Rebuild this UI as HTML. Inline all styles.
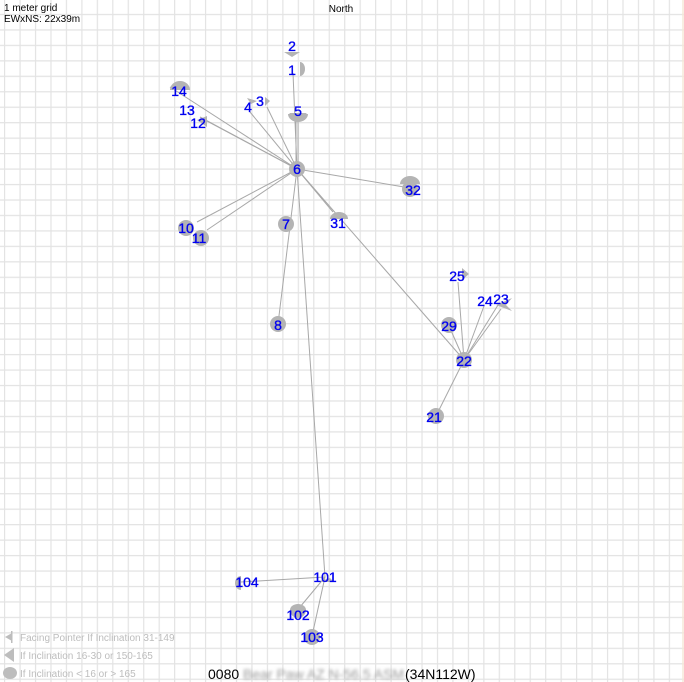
<!DOCTYPE html>
<html><head><meta charset="utf-8"><style>
html,body{margin:0;padding:0;background:#fff;}
svg{display:block;font-family:"Liberation Sans",sans-serif;}
.l{fill:#0000f0;stroke:#0000f0;stroke-width:0.35;font-size:14px;text-anchor:middle;dominant-baseline:central;}
.s{fill:#b4b4b4;}
.c{stroke:#a8a8a8;stroke-width:1;fill:none;}
</style></head><body>
<svg width="684" height="682" viewBox="0 0 684 682" xmlns="http://www.w3.org/2000/svg">
<defs>
<pattern id="g" patternUnits="userSpaceOnUse" x="4" y="13.86" width="15.46" height="15.46">
<path d="M0.6 0V15.46M0 0.6H15.46" stroke="#e3e3e3" stroke-width="1.2" fill="none"/>
</pattern>
<filter id="b"><feGaussianBlur stdDeviation="1.6"/></filter>
</defs>
<rect width="684" height="682" fill="#fff"/>
<rect width="684" height="682" fill="url(#g)"/>
<line x1="683" y1="0" x2="683" y2="682" stroke="#f5e8d8" stroke-width="1.5"/>

<g class="c">
<line x1="297" y1="169" x2="170" y2="87"/>
<line x1="297" y1="169" x2="200" y2="117"/>
<line x1="297" y1="169" x2="205" y2="120"/>
<line x1="297" y1="169" x2="250" y2="112"/>
<line x1="297" y1="169" x2="267" y2="107"/>
<line x1="297" y1="169" x2="293" y2="73"/>
<line x1="298" y1="169" x2="298" y2="117"/>
<line x1="296" y1="169" x2="296" y2="117"/>
<line x1="297" y1="169" x2="197" y2="222"/>
<line x1="297" y1="169" x2="207" y2="230"/>
<line x1="297" y1="169" x2="278" y2="324"/>
<line x1="297" y1="169" x2="325" y2="577"/>
<line x1="297" y1="169" x2="333" y2="212"/>
<line x1="297" y1="169" x2="404" y2="187"/>
<line x1="297" y1="169" x2="464" y2="360"/>
<line x1="464" y1="360" x2="436" y2="416"/>
<line x1="464" y1="360" x2="449" y2="326"/>
<line x1="464" y1="360" x2="458" y2="282"/>
<line x1="464" y1="360" x2="484" y2="306"/>
<line x1="464" y1="360" x2="498" y2="305"/>
<line x1="464" y1="360" x2="501" y2="309"/>
<line x1="325" y1="577" x2="241" y2="582"/>
<line x1="325" y1="577" x2="300" y2="607"/>
<line x1="325" y1="577" x2="312" y2="636"/>
</g>

<g class="s">
<circle cx="297" cy="169" r="8"/>
<circle cx="286" cy="224" r="8"/>
<circle cx="278" cy="324" r="8"/>
<circle cx="186" cy="228" r="8"/>
<circle cx="201" cy="238" r="8"/>
<circle cx="449" cy="325" r="8"/>
<circle cx="464" cy="360" r="8"/>
<circle cx="436" cy="416" r="8"/>
<circle cx="312" cy="637" r="8"/>
<circle cx="410" cy="189" r="8"/>
<path d="M290 610a8 8 0 0 0 16 0a8 6 0 0 0-16 0z"/>
<path d="M170 90a10 9 0 0 1 20 0z"/>
<path d="M288 114h20a10 8 0 0 1-20 0z"/>
<path d="M289 113l9 8 9-8z"/>
<path d="M330 219a9 7 0 0 1 18 0z"/>
<path d="M284 52h16l-8 5z"/>
<path d="M300 62a5 7 0 0 1 0 14z"/>
<path d="M197 120l10-4 0 11z"/>
<path d="M265 97l5 4-5 5z"/>
<path d="M247 98l10 3-6 3z"/>
<path d="M462 268l7 6-7 6z"/>
<path d="M496 305l16-7-6 7 6 6z"/>
<path d="M318 582l12-4 4 4z"/>
<path d="M241 576a6 7 0 0 0 0 14z"/>
<path d="M400 184a10 8 0 0 1 20 0z"/>
</g>

<g class="l">
<text x="292" y="46">2</text>
<text x="292" y="70">1</text>
<text x="179" y="91">14</text>
<text x="248" y="107">4</text>
<text x="260" y="101">3</text>
<text x="187" y="110">13</text>
<text x="298" y="111">5</text>
<text x="198" y="123">12</text>
<text x="297" y="169">6</text>
<text x="413" y="190">32</text>
<text x="186" y="228">10</text>
<text x="286" y="224">7</text>
<text x="338" y="223">31</text>
<text x="199" y="238">11</text>
<text x="457" y="276">25</text>
<text x="485" y="301">24</text>
<text x="501" y="299">23</text>
<text x="278" y="325">8</text>
<text x="449" y="326">29</text>
<text x="464" y="361">22</text>
<text x="434" y="417">21</text>
<text x="325" y="577">101</text>
<text x="247" y="582">104</text>
<text x="298" y="615">102</text>
<text x="312" y="637">103</text>
</g>

<text x="4" y="11" font-size="10" fill="#000">1 meter grid</text>
<text x="4" y="22" font-size="10" fill="#000">EWxNS: 22x39m</text>
<text x="341" y="12" font-size="10" fill="#000" text-anchor="middle">North</text>

<g fill="#bdbdbd">
<path d="M5 637l7-4v8z"/><rect x="11" y="631" width="1.5" height="12"/>
<path d="M4 655l10-7v14z"/>
<ellipse cx="10" cy="673" rx="7" ry="6"/>
</g>
<g font-size="10" fill="#bdbdbd">
<text x="20" y="641">Facing Pointer If Inclination 31-149</text>
<text x="20" y="659">If Inclination 16-30 or 150-165</text>
<text x="20" y="677">If Inclination &lt; 16 or &gt; 165</text>
</g>
<text x="208" y="679" font-size="14" fill="#000">0080</text>
<text x="243" y="679" font-size="14" fill="#9a9a9a" filter="url(#b)">Bear Paw AZ N-56.5 ASM</text>
<text x="405" y="679" font-size="14" fill="#000">(34N112W)</text>
</svg>
</body></html>
